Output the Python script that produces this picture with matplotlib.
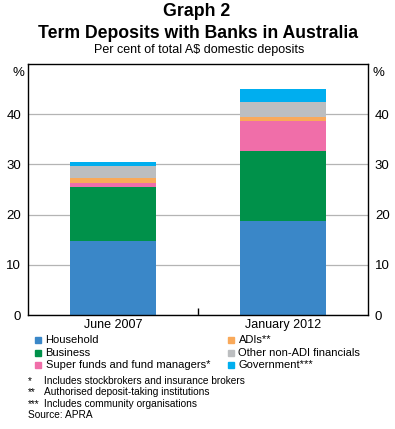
import matplotlib.pyplot as plt
from matplotlib.patches import Rectangle

plt.rcParams['font.family'] = ['Liberation Sans', 'DejaVu Sans']

periods = ['June 2007', 'January 2012']
series = ['Household', 'Business', 'Super funds and fund managers*',
          'ADIs**', 'Other non-ADI financials', 'Government***']
household = [14.7, 18.7]
business = [10.8, 14.0]
super_funds = [0.8, 5.9]
adis = [1.0, 0.8]
other_nonadi = [2.4, 3.0]
government = [0.8, 2.6]
colors = ['#3a87c8', '#00914a', '#f06ea9', '#f9a95a', '#bcbec0', '#00aeef']
yticks = [0, 10, 20, 30, 40]
notes = [('*', 'Includes stockbrokers and insurance brokers'),
         ('**', 'Authorised deposit-taking institutions'),
         ('***', 'Includes community organisations')]

W, H = 395, 429
fig = plt.figure(figsize=(W / 100, H / 100), dpi=100)
ax = fig.add_axes([28 / W, 1 - 315 / H, (368 - 28) / W, (315 - 64) / H])

values = [household, business, super_funds, adis, other_nonadi, government]
x = range(len(periods))
bottom = [0] * len(periods)
for vals, col in zip(values, colors):
    ax.bar(x, vals, width=0.51, bottom=bottom, color=col, zorder=2)
    bottom = [b + v for b, v in zip(bottom, vals)]

ax.set_xlim(-0.5, 1.5)
ax.set_ylim(0, 50)
ax.set_yticks(yticks)
ax.yaxis.grid(True, color='#b4b4b4', linewidth=0.9, zorder=0)
ax.set_axisbelow(True)
ax.tick_params(axis='y', length=0, labelsize=9.5, pad=5, labelright=True)
ax.set_xticks(list(x))
ax.set_xticklabels(periods, fontsize=9)
ax.tick_params(axis='x', length=0, pad=3)
ax.set_xticks([0.5], minor=True)
ax.tick_params(axis='x', which='minor', direction='in', length=5, width=1)
for s in ax.spines.values():
    s.set_linewidth(1)

fig.text(18.5 / W, 1 - 73 / H, '%', ha='center', va='center', fontsize=9.5)
fig.text(378 / W, 1 - 73 / H, '%', ha='center', va='center', fontsize=9.5)

fig.text(197 / W, 1 - 12 / H, 'Graph 2', ha='center', va='center',
         fontsize=12.8, fontweight='bold')
fig.text(198 / W, 1 - 33 / H, 'Term Deposits with Banks in Australia',
         ha='center', va='center', fontsize=12.7, fontweight='bold')
fig.text(199 / W, 1 - 50 / H, 'Per cent of total A$ domestic deposits',
         ha='center', va='center', fontsize=9)

# legend
for i, (lab, col) in enumerate(zip(series, colors)):
    cx = [35, 228][i // 3]
    cy = 340 + 12.5 * (i % 3)
    fig.patches.append(Rectangle((cx / W, 1 - (cy + 3) / H), 6 / W, 6 / H,
                                 transform=fig.transFigure, color=col))
    fig.text((cx + 10.5) / W, 1 - cy / H, lab, ha='left', va='center', fontsize=8)

for j, (mark, txt) in enumerate(notes):
    cy = 381 + 11.3 * j
    fig.text(28 / W, 1 - cy / H, mark, ha='left', va='center', fontsize=7.3)
    fig.text(44 / W, 1 - cy / H, txt, ha='left', va='center', fontsize=7.3)
fig.text(28 / W, 1 - 415 / H, 'Source: APRA', ha='left', va='center', fontsize=7.3)

fig.savefig('out.png', dpi=100)
